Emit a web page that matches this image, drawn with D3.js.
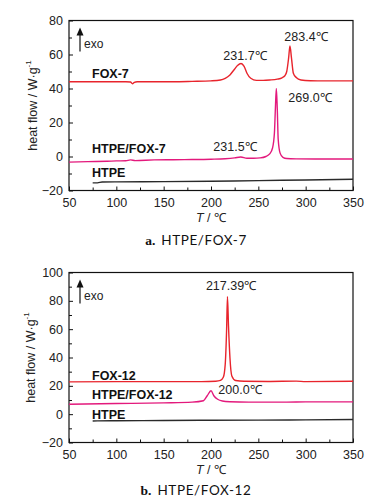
<!DOCTYPE html>
<html><head><meta charset="utf-8">
<script src="https://cdn.jsdelivr.net/npm/d3@7"></script>
<style>
html,body{margin:0;padding:0;background:#fff;}
svg{display:block;font-family:"Liberation Sans",Arial,sans-serif;}
</style></head>
<body>
<script>
// ---------- data ----------
const xTicks = [50, 100, 150, 200, 250, 300, 350];
const yTicksA = [-20, 0, 20, 40, 60, 80];
const yTicksB = [-20, 0, 20, 40, 60, 80, 100];

// chart a: HTPE/FOX-7
const fox7T = [50,60,80,100,110,115,117,119,122,140,160,180,200,210,215,220,225,228,231.7,235,238,242,248,255,262,270,275,278,280,282,283.4,285,287,290,295,305,320,350];
const fox7V = [44,44,44,44,44,43.8,42.8,43.6,44,44,44,44.2,44.5,45,46,48,51.5,53.5,54.7,53,49,46,44.8,44.8,45,45.5,46.3,47.5,50,58,65,58,49,46.5,45,44.6,44.5,44.5];
const htpeFox7T = [50,70,90,100,110,115,120,140,160,180,200,215,225,231.5,238,245,252,258,262,265,267,268,269,270,271,273,276,280,290,310,350];
const htpeFox7V = [-3.3,-3,-2.8,-2.6,-2.5,-2.0,-2.4,-2,-1.9,-1.8,-1.6,-1.3,-0.8,-0.3,-1,-1,-0.8,0,1.5,5,14,28,40,28,10,2,-0.5,-1.2,-1.4,-1.5,-1.5];
const htpeAT = [75,80,85,100,150,200,250,300,350];
const htpeAV = [-15.5,-15.5,-15,-14.9,-14.8,-14.6,-14.2,-13.8,-13.4];

// chart b: HTPE/FOX-12
const fox12T = [50,100,150,190,205,210,213,215,216.5,217.39,218.5,220,222,226,235,260,290,300,350];
const fox12V = [22.8,23,23,23,23.2,23.8,26,35,60,83,62,40,27,23.8,23.2,23.1,23.3,23,23.2];
const htpeFox12T = [50,100,150,180,192,196,200,203,207,212,220,240,280,300,350];
const htpeFox12V = [7,7.5,8,8.5,9.5,13,16.5,13,10.5,9.3,8.8,8.5,8.5,8.7,8.7];
const htpeBT = [75,80,100,150,200,250,300,350];
const htpeBV = [-4.8,-4.7,-4.6,-4.5,-4.3,-4.2,-4,-3.8];

const seriesLabelsA = ["FOX-7", "HTPE/FOX-7", "HTPE"];
const seriesLabelsB = ["FOX-12", "HTPE/FOX-12", "HTPE"];
const peakLabelsA = [{t:"231.7℃", x:231.7, y:54.7}, {t:"283.4℃", x:283.4, y:65}, {t:"269.0℃", x:269, y:40}, {t:"231.5℃", x:231.5, y:-0.3}];
const peakLabelsB = [{t:"217.39℃", x:217.39, y:83}, {t:"200.0℃", x:200, y:16.5}];
const captions = ["HTPE/FOX-7", "HTPE/FOX-12"];

// ---------- drawing ----------
const W = 391, H = 503;
const svg = d3.select("body").append("svg").attr("width", W).attr("height", H);
const RED = "#e8242c", MAG = "#e3197c", BLK = "#2a2a2a";

function zip(a, b){ return a.map((v,i)=>[v,b[i]]); }

function drawChart(cfg){
  const g = svg.append("g");
  const x = d3.scaleLinear().domain([50,350]).range([69,353]);
  const y = d3.scaleLinear().domain(cfg.yDomain).range([cfg.bottom, cfg.top]);

  // frame
  g.append("rect").attr("x",69).attr("y",cfg.top).attr("width",284).attr("height",cfg.bottom-cfg.top)
    .attr("fill","none").attr("stroke","#111").attr("stroke-width",1.2);

  // x axis (inward ticks)
  const xAxis = d3.axisBottom(x).tickValues(xTicks).tickSize(-4).tickPadding(8).tickFormat(d3.format("d"));
  const xa = g.append("g").attr("transform",`translate(0,${cfg.bottom})`).call(xAxis);
  const xMinor = d3.axisBottom(x).tickValues(xTicks.slice(0,-1).map(d=>d+25)).tickSize(-3).tickFormat("");
  const xm = g.append("g").attr("transform",`translate(0,${cfg.bottom})`).call(xMinor);
  // y axis
  const yAxis = d3.axisLeft(y).tickValues(cfg.yTicks).tickSize(-4).tickPadding(6).tickFormat(d3.format("d"));
  const ya = g.append("g").attr("transform",`translate(69,0)`).call(yAxis);
  const yMinor = d3.axisLeft(y).tickValues(cfg.yTicks.slice(0,-1).map(d=>d+10)).tickSize(-3).tickFormat("");
  const ym = g.append("g").attr("transform",`translate(69,0)`).call(yMinor);
  [xa,xm,ya,ym].forEach(a=>{ a.select(".domain").remove(); a.selectAll("line").attr("stroke","#111"); });
  [xa,ya].forEach(a=>a.selectAll("text").attr("font-size",12.5).attr("fill","#222")
     .attr("font-family","'Liberation Sans Narrow','Liberation Sans',Arial,sans-serif"));

  // axis titles
  const xt = g.append("text").attr("x",211).attr("y",cfg.bottom+31).attr("text-anchor","middle")
    .attr("font-size",12.5).attr("fill","#222");
  xt.append("tspan").attr("font-style","italic").text("T");
  xt.append("tspan").text(" / ℃");
  const cy = (cfg.top+cfg.bottom)/2;
  const yt = g.append("text").attr("transform",`translate(${cfg.ylabX},${cy}) rotate(-90)`)
    .attr("text-anchor","middle").attr("font-size",12.5).attr("fill","#222");
  yt.append("tspan").text("heat flow / W·g");
  yt.append("tspan").attr("dy",-6).attr("font-size",8).text("-1");

  // exo arrow
  g.append("line").attr("x1",80).attr("x2",80).attr("y1",cfg.top+31).attr("y2",cfg.top+13)
    .attr("stroke","#111").attr("stroke-width",1.2);
  g.append("path").attr("d",`M76.5,${cfg.top+15} L80,${cfg.top+7} L83.5,${cfg.top+15} Z`).attr("fill","#111");
  g.append("text").attr("x",84).attr("y",cfg.top+27).attr("font-size",12).attr("fill","#222").text("exo");

  // lines
  const line = d3.line().x(d=>x(d[0])).y(d=>y(d[1])).curve(d3.curveMonotoneX);
  cfg.series.forEach(s=>{
    g.append("path").datum(zip(s.t,s.v)).attr("d",line).attr("fill","none")
      .attr("stroke",s.color).attr("stroke-width",1.4);
  });

  // series labels
  cfg.seriesLabels.forEach((t,i)=>{
    g.append("text").attr("x",92).attr("y",cfg.labelY[i]).attr("font-size",12.5).attr("font-weight","bold")
      .attr("fill","#111").text(t);
  });
  // peak labels
  cfg.peaks.forEach((p,i)=>{
    g.append("text").attr("x",cfg.peakPos[i][0]).attr("y",cfg.peakPos[i][1]).attr("text-anchor","middle")
      .attr("font-size",12.5).attr("fill","#222")
      .attr("font-family","'Liberation Sans Narrow','Liberation Sans',Arial,sans-serif").text(p.t);
  });

  // caption
  const cap = g.append("text").attr("x",196).attr("y",cfg.capY).attr("text-anchor","middle")
    .attr("font-size",13.5).attr("fill","#111");
  cap.append("tspan").attr("font-family","'Liberation Serif',serif").attr("font-weight","bold").text("a".replace("a",cfg.letter)+".");
  cap.append("tspan").attr("dx",6).attr("font-family","Lato,'Open Sans',sans-serif").attr("letter-spacing",0.6).text(cfg.caption);
}

drawChart({
  top:20.5, bottom:190.5, yDomain:[-20,80], yTicks:yTicksA, ylabX:37,
  series:[{t:fox7T,v:fox7V,color:RED},{t:htpeFox7T,v:htpeFox7V,color:MAG},{t:htpeAT,v:htpeAV,color:BLK}],
  seriesLabels:seriesLabelsA, labelY:[78,153,177],
  peaks:peakLabelsA, peakPos:[[245,60],[306,41],[310,102],[235,151]],
  letter:"a", caption:captions[0], capY:245
});
drawChart({
  top:272.5, bottom:442.5, yDomain:[-20,100], yTicks:yTicksB, ylabX:35,
  series:[{t:fox12T,v:fox12V,color:RED},{t:htpeFox12T,v:htpeFox12V,color:MAG},{t:htpeBT,v:htpeBV,color:BLK}],
  seriesLabels:seriesLabelsB, labelY:[380,399,419],
  peaks:peakLabelsB, peakPos:[[231,290],[240,394]],
  letter:"b", caption:captions[1], capY:495
});
</script>
</body></html>
